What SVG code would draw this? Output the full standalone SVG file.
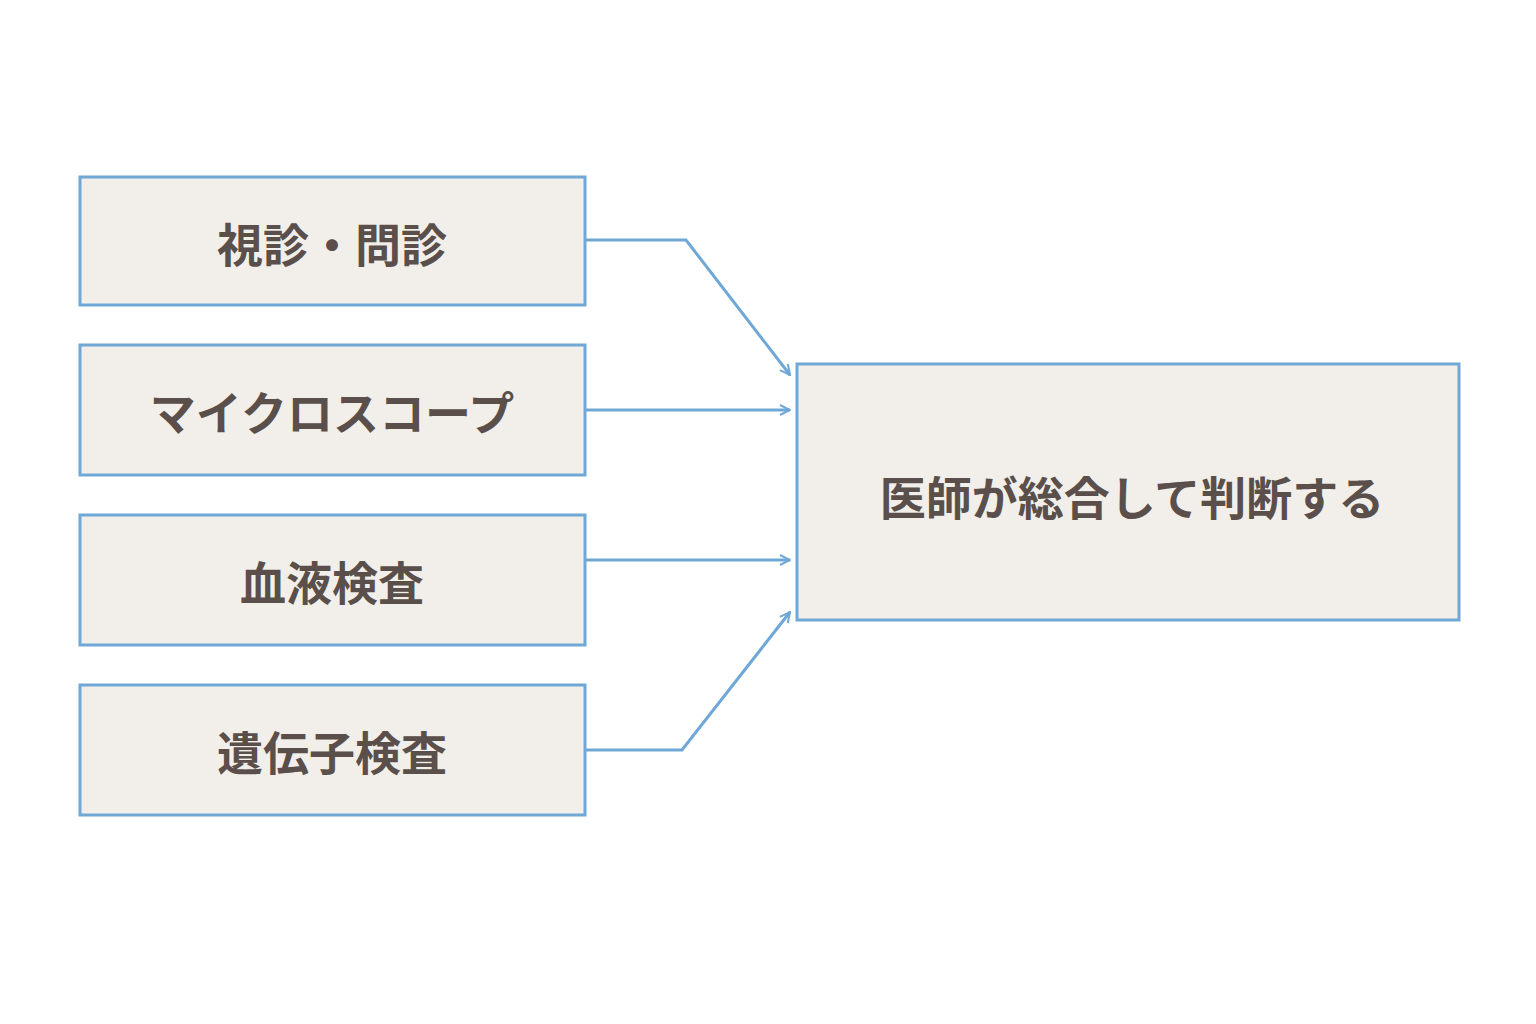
<svg xmlns="http://www.w3.org/2000/svg" width="1536" height="1024" viewBox="0 0 1536 1024">
<style>
.box{fill:#f2efeb;stroke:#6fa8d6;stroke-width:3}
.t{font-family:"Noto Sans CJK JP",sans-serif;font-weight:bold;font-size:46px;fill:#5a4f4a;text-anchor:middle;dominant-baseline:central}
.c{fill:none;stroke:#6fa8d6;stroke-width:3;marker-end:url(#a)}
</style>
<defs><marker id="a" viewBox="0 0 12 12" refX="11" refY="6" markerWidth="12" markerHeight="12" markerUnits="userSpaceOnUse" orient="auto"><path d="M1,1 L11,6 L1,11" fill="none" stroke="#6fa8d6" stroke-width="2"/></marker></defs>
<rect width="1536" height="1024" fill="#fff"/>
<g id="n1"><rect class="box" x="80" y="177" width="505" height="128"/><text class="t" x="332" y="242">視診・問診</text></g>
<g id="n2"><rect class="box" x="80" y="345" width="505" height="130"/><text class="t" x="332" y="410">マイクロスコープ</text></g>
<g id="n3"><rect class="box" x="80" y="515" width="505" height="130"/><text class="t" x="332" y="580">血液検査</text></g>
<g id="n4"><rect class="box" x="80" y="685" width="505" height="130"/><text class="t" x="332" y="750">遺伝子検査</text></g>
<g id="n5"><rect class="box" x="797" y="364" width="662" height="256"/><text class="t" x="1132" y="495">医師が総合して判断する</text></g>
<g id="connectors">
<path class="c" d="M585,240 H686 L790,375"/>
<path class="c" d="M585,410 H790"/>
<path class="c" d="M585,560 H790"/>
<path class="c" d="M585,750 H682 L790,612"/>
</g>
</svg>
